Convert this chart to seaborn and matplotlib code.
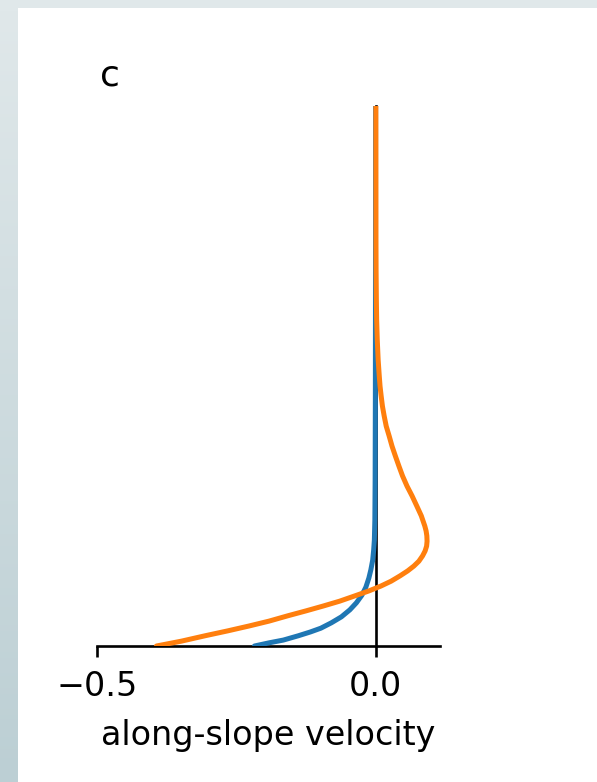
import numpy as np
import pandas as pd
import matplotlib
matplotlib.use("Agg")
import matplotlib.pyplot as plt
from matplotlib.patches import Rectangle
import seaborn as sns

# Normalised height above the bottom and along-slope velocity of the two profiles
height_a = [0.000, 0.006, 0.011, 0.019, 0.026, 0.033, 0.043, 0.054, 0.067, 0.080,
            0.094, 0.109, 0.126, 0.141, 0.159, 0.178, 0.196, 0.233, 0.307, 0.456,
            0.641, 1.000]
velocity_a = [-0.2177, -0.1909, -0.1658, -0.1389, -0.1174, -0.0986, -0.0797, -0.0618, -0.0466, -0.0349,
              -0.0251, -0.0179, -0.0125, -0.0090, -0.0057, -0.0039, -0.0027, -0.0018, -0.0013, -0.0009,
              -0.0007, -0.0005]

height_b = [0.000, 0.009, 0.019, 0.028, 0.037, 0.046, 0.056, 0.065, 0.074, 0.083,
            0.093, 0.102, 0.111, 0.120, 0.130, 0.139, 0.148, 0.157, 0.167, 0.176,
            0.185, 0.194, 0.204, 0.213, 0.222, 0.241, 0.259, 0.278, 0.296, 0.315,
            0.333, 0.352, 0.370, 0.389, 0.407, 0.426, 0.444, 0.463, 0.481, 0.500,
            0.530, 0.567, 0.604, 0.641, 0.696, 0.752, 1.000]
velocity_b = [-0.3934, -0.3486, -0.3060, -0.2657, -0.2276, -0.1918, -0.1577, -0.1254, -0.0945, -0.0650,
              -0.0372, -0.0125, 0.0090, 0.0273, 0.0435, 0.0569, 0.0681, 0.0771, 0.0838, 0.0883,
              0.0910, 0.0918, 0.0914, 0.0901, 0.0878, 0.0815, 0.0735, 0.0649, 0.0559, 0.0478,
              0.0414, 0.0349, 0.0290, 0.0238, 0.0186, 0.0149, 0.0118, 0.0095, 0.0075, 0.0061,
              0.0041, 0.0025, 0.0014, 0.0009, 0.0004, 0.0002, 0.0000]

x_ticks = [-0.5, 0.0]
x_tick_labels = ["\u22120.5", "0.0"]
x_label = "along-slope velocity"
panel_label = "c"

W, H = 597, 782
sns.set_style("ticks")
plt.rcParams["font.family"] = ["DejaVu Sans"]
plt.rcParams["text.color"] = "black"
plt.rcParams["axes.labelcolor"] = "black"
plt.rcParams["xtick.color"] = "black"

fig = plt.figure(figsize=(W / 100, H / 100), dpi=100)
fig.patch.set_facecolor("white")

# frame: flat strip along the top, vertical gradient strip on the left
fig.patches.append(Rectangle((0, 1 - 8 / H), 1, 8 / H, transform=fig.transFigure,
                             facecolor="#e0e8ea", edgecolor="none", zorder=0))
strip = fig.add_axes([0, 0, 18 / W, 1 - 8 / H])
strip.set_axis_off()
top_rgb = np.array([224, 232, 234]) / 255
bot_rgb = np.array([188, 207, 212]) / 255
t = np.linspace(0, 1, 256)[:, None, None]
grad = top_rgb * (1 - t) + bot_rgb * t
strip.imshow(grad, aspect="auto", extent=[0, 1, 0, 1])

ax = fig.add_axes([97 / W, 1 - 646 / H, 343 / W, 540 / H])
ax.set_facecolor("none")

df_a = pd.DataFrame({"velocity": velocity_a, "height": height_a})
df_b = pd.DataFrame({"velocity": velocity_b, "height": height_b})
sns.lineplot(data=df_a, x="velocity", y="height", sort=False, orient="y",
             color="#1f77b4", linewidth=3.6, ax=ax, zorder=3)
sns.lineplot(data=df_b, x="velocity", y="height", sort=False, orient="y",
             color="#ff7f0e", linewidth=3.6, ax=ax, zorder=4)
for ln in ax.lines:
    ln.set_solid_joinstyle("round")

ax.set_xlim(-0.5, 0.115)
ax.set_ylim(0, 1)
ax.spines["top"].set_visible(False)
ax.spines["right"].set_visible(False)
ax.spines["left"].set_position(("data", 0))
for s in ("left", "bottom"):
    ax.spines[s].set_linewidth(1.9)
    ax.spines[s].set_color("black")
ax.set_yticks([])
ax.set_ylabel("")
ax.set_xticks(x_ticks)
ax.set_xticklabels(x_tick_labels)
ax.tick_params(axis="x", length=8, width=1.9, labelsize=24, pad=9, color="black",
               labelcolor="black")
ax.set_xlabel(x_label, fontsize=24, labelpad=12, color="black")

fig.text(100 / W, 1 - 86 / H, panel_label, fontsize=26, ha="left", va="baseline", color="black")

fig.savefig("out.png", dpi=100, facecolor=fig.get_facecolor())
